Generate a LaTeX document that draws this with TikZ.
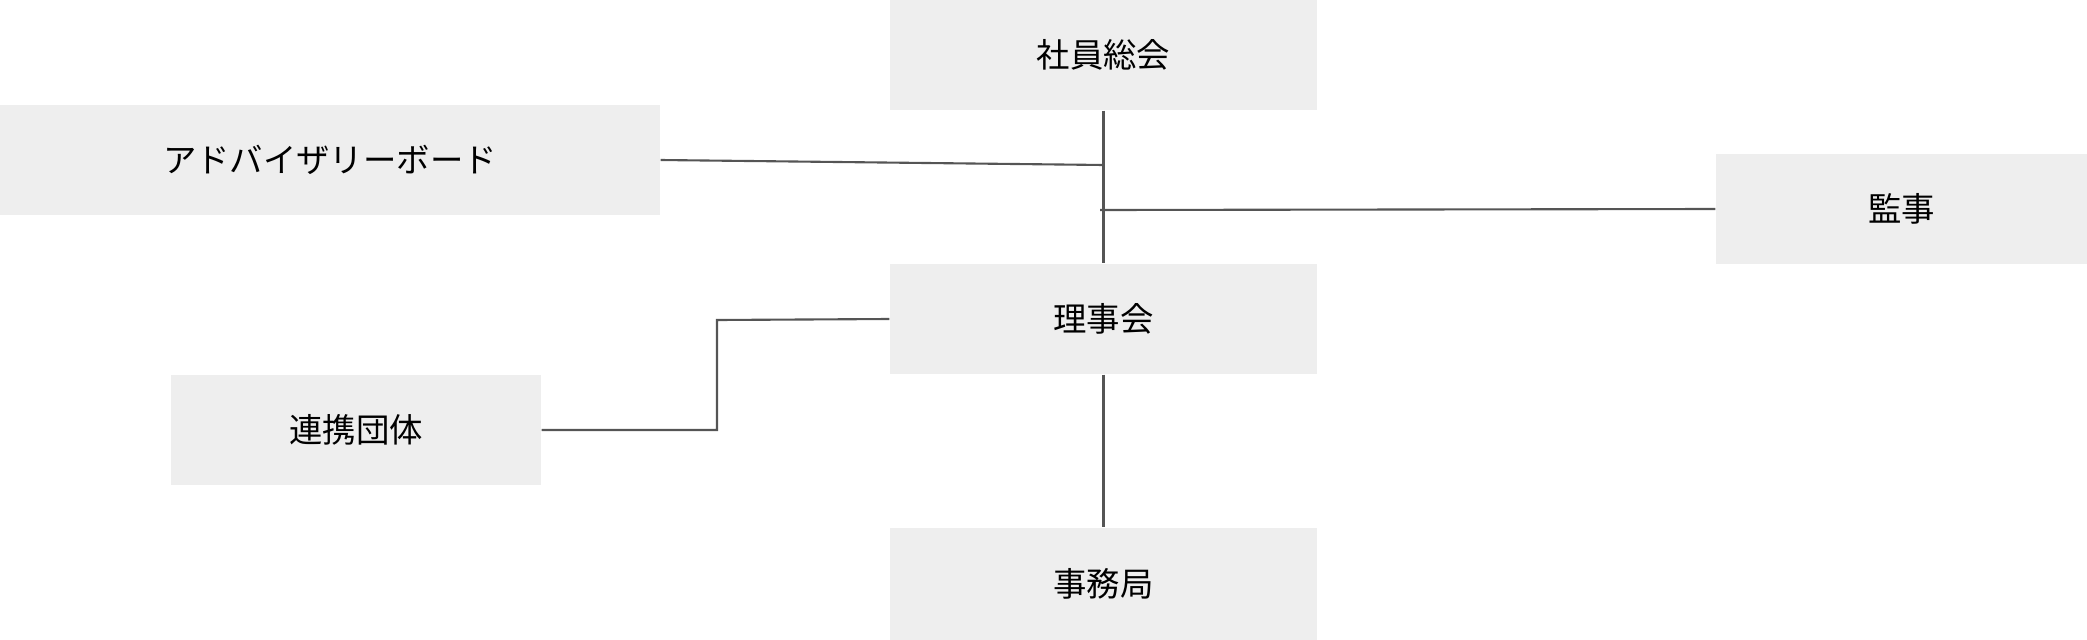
\documentclass[tikz,border=0pt]{standalone}
\usepackage{fontspec}
\setmainfont{Noto Sans CJK JP}
\begin{document}
\begin{tikzpicture}[x=0.1mm,y=-0.1mm,
  box/.style={fill={rgb,255:red,238;green,238;blue,238},draw=none,inner sep=0,font=\fontsize{9.5}{11}\selectfont},
  link/.style={draw={rgb,255:red,85;green,85;blue,85},line width=0.6pt}]
\useasboundingbox (0,0) rectangle (2087,640);
\node[box,minimum width=42.7mm,minimum height=11mm] (soukai) at (1103.5,55) {社員総会};
\node[box,minimum width=66mm,minimum height=11mm] (advisory) at (330,160) {アドバイザリーボード};
\node[box,minimum width=37.1mm,minimum height=11mm] (kanji) at (1901.5,209) {監事};
\node[box,minimum width=42.7mm,minimum height=11mm] (rijikai) at (1103.5,319) {理事会};
\node[box,minimum width=37mm,minimum height=11mm] (renkei) at (356,430) {連携団体};
\node[box,minimum width=42.7mm,minimum height=11.2mm] (jimu) at (1103.5,584) {事務局};
\coordinate (j1) at (1104,165);
\coordinate (j2) at (1100,210);
\draw[link] (soukai.south) -- (rijikai.north);
\draw[link] (advisory.east) -- (j1);
\draw[link] (j2) -- (kanji.west);
\draw[link] (renkei.east) -- (717,430) -- (717,320) -- (rijikai.west);
\draw[link] (rijikai.south) -- (jimu.north);
\end{tikzpicture}
\end{document}
